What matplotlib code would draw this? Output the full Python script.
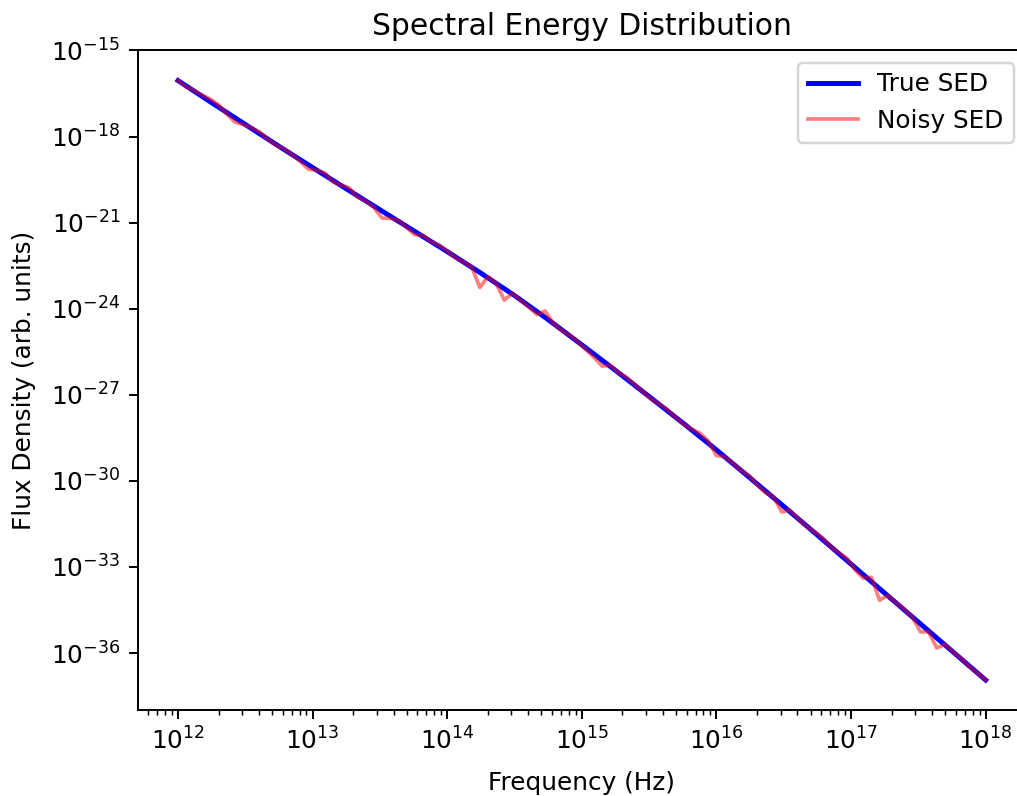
import numpy as np
import matplotlib
matplotlib.use("Agg")
import matplotlib.pyplot as plt

# True SED (log10 flux) read at 25 log-spaced frequencies 1e12..1e18
true_log_flux = [-16.05, -16.82, -17.58, -18.34, -19.08, -19.82, -20.55, -21.28,
                 -22.01, -22.76, -23.54, -24.38, -25.26, -26.15, -27.06, -27.98,
                 -28.92, -29.90, -30.89, -31.89, -32.90, -33.91, -34.92, -35.93,
                 -36.94]

# Noisy SED (log10 flux) read at 100 log-spaced frequencies 1e12..1e18
noisy_log_flux = [
    -16.05, -16.27, -16.40, -16.56, -16.70, -16.90, -17.22, -17.50, -17.58, -17.69,
    -17.84, -18.09, -18.30, -18.43, -18.63, -18.87, -19.14, -19.17, -19.27, -19.58,
    -19.69, -19.79, -20.11, -20.24, -20.47, -20.84, -20.85, -20.92, -21.16, -21.42,
    -21.43, -21.66, -21.78, -21.99, -22.22, -22.37, -22.54, -23.26, -22.88, -23.12,
    -23.70, -23.46, -23.71, -23.95, -24.20, -24.08, -24.51, -24.75, -24.92, -25.15,
    -25.42, -25.70, -26.00, -25.97, -26.23, -26.39, -26.64, -26.90, -27.15, -27.32,
    -27.51, -27.79, -28.03, -28.20, -28.34, -28.61, -29.12, -29.16, -29.38, -29.63,
    -29.81, -30.14, -30.41, -30.55, -31.08, -31.02, -31.31, -31.58, -31.77, -31.98,
    -32.29, -32.50, -32.70, -33.10, -33.39, -33.36, -34.16, -33.98, -34.25, -34.46,
    -34.74, -35.26, -35.26, -35.82, -35.70, -35.96, -36.18, -36.47, -36.70, -36.94]

# y tick decades shown on the axis
y_tick_exponents = [-15, -18, -21, -24, -27, -30, -33, -36]

freq_true = np.logspace(12, 18, len(true_log_flux))
freq_noisy = np.logspace(12, 18, len(noisy_log_flux))
true_flux = 10.0 ** np.array(true_log_flux)
noisy_flux = 10.0 ** np.array(noisy_log_flux)

dpi = 178.5
fig = plt.figure(figsize=(1017 / dpi, 796 / dpi), dpi=dpi)
ax = fig.add_axes([0.1353, 0.108, 0.8736, 0.829])

ax.loglog(freq_true, true_flux, color="blue", lw=2, label="True SED")
ax.loglog(freq_noisy, noisy_flux, color="red", lw=1.5, alpha=0.5, label="Noisy SED")

ylo = ax.get_ylim()[0]
ax.set_yticks([10.0 ** e for e in y_tick_exponents])
ax.yaxis.set_minor_locator(matplotlib.ticker.NullLocator())
ax.set_ylim(ylo, 10.0 ** -14.99)

ax.set_xlabel("Frequency (Hz)", labelpad=6.5)
ax.set_ylabel("Flux Density (arb. units)", labelpad=6)
ax.set_title("Spectral Energy Distribution")
ax.legend(loc="upper right")

fig.savefig("out.png", dpi=dpi)
